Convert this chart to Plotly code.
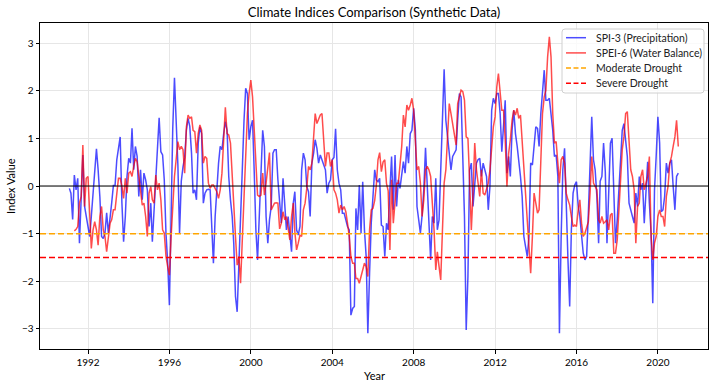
import numpy as np
import pandas as pd
import plotly.graph_objects as go

# Monthly dates (month end), Jan 1991 - Dec 2020
dates = pd.date_range(start="1991-01-01", periods=360, freq="MS") + pd.offsets.MonthEnd(0)

spi3 = [
    -0.05, -0.15, -0.70, 0.23, -0.08, 0.16, -1.20, -0.22, 0.65, -0.43,
    -0.64, -0.85, -1.06, -0.64, -0.08, 0.34, 0.78, 0.34, -0.22, -1.06,
    -1.10, -0.99, -0.56, -0.99, -0.71, -0.36, 0.01, 0.01, 0.55, 0.76,
    1.03, -0.36, -1.17, -0.64, 0.20, 0.58, 0.48, 1.21, 0.34, 0.83,
    0.62, -0.22, 0.34, -0.29, 0.27, 0.13, -0.08, -0.85, -0.36, -1.17,
    -0.50, 0.13, 0.76, 1.43, 0.72, 0.65, 0.13, -1.00, -1.60, -2.50,
    -0.60, 1.20, 2.27, 1.40, 0.45, -1.00, 0.10, 0.40, 0.60, 1.17,
    1.42, 1.25, 0.69, -0.15, -0.08, -0.29, 0.90, 1.24, 1.10, -0.36,
    -0.15, -0.08, -0.07, -0.08, -0.92, -1.62, -0.64, -0.01, 0.48, 0.83,
    0.76, 1.10, 1.35, 1.17, 0.20, -0.29, -0.64, -1.20, -2.32, -2.64,
    -1.76, -0.92, 0.34, 1.38, 2.05, 1.94, 0.97, 1.24, 1.38, 0.34,
    -0.92, -1.55, -0.64, 0.62, 1.17, 0.83, -0.64, -1.20, -0.71, -0.43,
    0.69, 0.76, 0.76, 0.13, -0.36, -0.78, 0.16, -0.30, -0.92, -0.64,
    -1.06, -1.38, -0.36, -0.12, -0.92, -1.03, -0.85, 0.34, 0.69, 0.55,
    -0.01, -0.12, -0.64, 0.48, 0.69, 0.97, 0.79, 0.48, 0.65, 0.55,
    0.44, 0.34, -0.15, 0.06, 0.13, 0.55, 0.60, 1.20, 0.34, 0.06,
    -0.08, -0.57, -0.57, -0.71, -0.85, -0.92, -2.71, -2.57, -2.53, -0.47,
    -0.92, 0.02, -0.99, 0.09, -0.92, -1.48, -3.09, -1.83, -0.78, -0.22,
    0.34, 0.13, 0.09, 0.16, -0.82, -0.85, -1.48, -0.78, -0.92, -0.08,
    0.62, -0.50, 0.65, -0.43, 0.13, -0.05, 0.27, 0.51, 0.27, 0.83,
    0.48, 1.10, 1.17, 1.63, 1.17, -0.43, -0.71, -0.99, -0.61, -0.08,
    0.80, 0.10, -0.78, -1.55, -0.64, -0.78, 0.16, -0.92, -0.71, 0.41,
    1.17, 2.45, 1.38, 1.03, 0.83, 0.34, 0.62, 0.69, 0.76, 1.38,
    1.94, 1.87, 0.76, -0.64, -3.02, -1.90, 0.34, 0.48, -0.43, 0.06,
    0.48, 0.55, 0.58, 0.20, 0.48, 0.34, 0.20, -0.50, -0.01, 1.59,
    1.84, 1.73, 1.94, 1.94, 1.52, 0.72, 1.38, 1.80, 0.27, 0.62,
    0.20, 1.17, 1.59, 1.10, 0.83, 0.55, 0.20, -0.22, -1.06, -1.27,
    -1.48, -1.06, 0.48, 0.44, 0.83, 1.24, 1.21, 0.83, 1.52, 1.94,
    2.43, 1.80, 1.80, 1.84, 1.52, 1.17, 0.62, 0.65, 0.20, -3.09,
    -1.06, 0.34, 0.79, -0.64, -1.55, -2.53, -0.92, -0.15, 0.02, 0.09,
    -0.43, -0.64, -1.06, -1.41, -1.55, -1.48, -0.57, 0.62, 1.45, 0.55,
    0.34, -0.22, -1.20, 0.10, 0.20, 0.90, 0.30, -1.20, 0.13, 0.90,
    1.00, -0.22, -1.20, -0.71, -0.08, 0.76, 1.17, 1.31, 0.97, 0.62,
    -0.36, -0.54, -0.64, -0.78, -0.15, -0.43, 0.20, -0.08, 0.06, -0.78,
    0.06, 0.51, -0.36, -0.99, -2.46, -0.08, 0.62, 1.45, 0.90, -0.54,
    -0.50, -0.22, 0.48, 0.27, 0.48, 0.55, -0.01, -0.50, 0.20, 0.27,
]

spei6 = [
    None, None, None, -0.94, -0.91, -0.85, -0.36, -0.22, 0.86, -0.43,
    0.16, 0.20, -0.78, -1.31, -0.92, -0.75, -0.92, -1.24, -0.64, -0.43,
    -0.92, -1.06, -1.38, -1.06, -0.78, -0.71, -0.50, -0.50, -0.15, 0.16,
    0.16, -0.01, -0.26, 0.16, -0.15, 0.27, 0.30, 0.20, 0.41, 0.58,
    0.51, 0.20, -0.19, -0.40, -0.36, -0.64, -1.06, -0.15, -0.01, -0.29,
    -0.36, 0.23, -0.08, 0.06, -0.29, -0.92, -0.99, -1.48, -1.69, -1.87,
    -1.06, -0.36, 0.20, 0.55, 0.93, 0.76, 0.83, 0.76, 0.27, 1.24,
    1.49, 1.42, 1.45, 1.17, 1.14, 0.69, 1.10, 1.28, 1.17, 0.48,
    0.62, 0.58, 0.06, -0.05, 0.02, 0.02, -0.07, -0.12, -0.26, -0.08,
    0.27, 0.97, 1.65, 1.10, 1.07, 0.90, 0.13, -0.50, -1.06, -1.66,
    -1.48, -2.04, -1.06, -0.08, 0.83, 1.52, 1.94, 2.22, 1.87, 1.17,
    0.48, -0.19, -0.22, -0.19, 0.27, -0.19, 0.06, 0.34, 0.70, -0.50,
    -0.43, -0.36, -0.35, -0.36, -0.90, -0.78, -0.54, -0.71, -0.64, -0.85,
    -1.13, -0.64, -0.36, -0.96, -1.34, -1.20, -1.03, -1.06, -0.50, -0.36,
    -0.05, 0.41, 0.34, 0.48, 1.17, 1.52, 1.31, 1.42, 1.49, 1.52,
    0.90, 0.41, 0.69, 0.69, 0.41, 0.55, -0.08, -0.15, -0.29, -0.57,
    -0.40, -0.50, -0.43, -0.54, -0.78, -1.06, -1.48, -1.62, -1.62, -1.94,
    -1.94, -2.04, -1.90, -1.76, -1.62, -1.69, -1.90, -0.92, -0.50, -0.47,
    -0.30, 0.00, 0.55, 0.70, 0.30, 0.50, 0.55, 0.05, -0.10, -1.34,
    0.13, -0.78, -0.36, 0.06, 0.06, 0.48, 0.83, 1.49, 1.24, 1.70,
    1.59, 1.70, 1.84, 1.59, 0.97, 0.34, 0.41, 0.06, -0.64, -0.29,
    0.34, 0.41, 0.34, 0.20, -0.36, -0.92, -1.76, -1.38, -1.69, -1.97,
    -0.92, 0.06, 0.34, 0.97, 1.73, 1.52, 1.31, 1.03, 0.86, 1.73,
    1.87, 2.01, 1.98, 1.80, 1.03, 1.00, 0.13, -0.92, -0.15, 0.90,
    0.34, 0.02, -0.22, 0.34, -0.15, -0.19, -0.08, 0.06, 0.34, 0.83,
    1.24, 1.45, 2.08, 2.36, 1.87, 1.59, 1.59, 0.97, -0.01, 0.69,
    0.97, 1.38, 1.59, 1.49, 1.63, 1.42, 1.49, 0.97, 0.34, -0.08,
    -0.64, -1.20, -1.83, -1.06, -0.15, -0.36, -0.57, -0.50, 0.76, 1.52,
    1.87, 2.01, 2.71, 3.13, 2.71, 1.52, 0.90, 0.93, 0.48, 0.06,
    0.55, 0.62, 0.48, -0.15, -0.29, -0.40, -0.64, -0.85, -0.82, -0.85,
    -0.50, -0.29, -0.78, -1.06, -0.99, -0.85, -0.75, -0.15, 0.62, 0.06,
    -0.01, -0.08, -0.71, -0.78, -0.64, -0.78, -0.75, -0.71, -0.92, -0.61,
    -0.57, -1.41, -1.41, -1.13, -0.50, 0.06, 0.76, 1.03, 1.52, 1.56,
    1.03, 0.34, 0.20, -0.08, -1.20, -0.43, -0.36, 0.20, 0.34, -0.08,
    0.06, 0.20, 0.62, -1.06, -1.55, -1.20, -1.06, -0.64, -0.50, -0.64,
    -0.64, -0.85, -0.22, -0.01, 0.48, 0.62, 0.83, 1.03, 1.38, 0.83,
]

moderate_level = -1.0
severe_level = -1.5
year_ticks = [1992, 1996, 2000, 2004, 2008, 2012, 2016, 2020]
y_ticks = [-3, -2, -1, 0, 1, 2, 3]

series_names = ["SPI-3 (Precipitation)", "SPEI-6 (Water Balance)", "Moderate Drought", "Severe Drought"]
series_colors = ["rgba(0,0,255,0.7)", "rgba(255,0,0,0.7)", "orange", "red"]
series_dash = ["solid", "solid", "5px,2.5px", "5px,2.5px"]

FONT = "Lato, 'Noto Sans', sans-serif"

# plot area in pixels
L, R, T, B = 40, 708, 23, 349
W, H = R - L, B - T


def px(x):
    return (x - L) / W


def py(y):
    return (B - y) / H


fig = go.Figure()
fig.add_trace(go.Scatter(x=dates, y=spi3, mode="lines", name=series_names[0],
                         line=dict(color=series_colors[0], width=1.5)))
fig.add_trace(go.Scatter(x=dates, y=spei6, mode="lines", name=series_names[1],
                         line=dict(color=series_colors[1], width=1.5)))

x_range = ["1989-08-22", "2022-06-17"]

fig.add_trace(go.Scatter(x=x_range, y=[0, 0], mode="lines",
                         line=dict(color="black", width=1), hoverinfo="skip"))
fig.add_trace(go.Scatter(x=x_range, y=[moderate_level] * 2, mode="lines", name=series_names[2],
                         line=dict(color=series_colors[2], width=1.5, dash="6px,3px")))
fig.add_trace(go.Scatter(x=x_range, y=[severe_level] * 2, mode="lines", name=series_names[3],
                         line=dict(color=series_colors[3], width=1.5, dash="6px,3px")))

# custom legend (matplotlib-like)
shapes = []
annotations = []
bx0, bx1, by0, by1 = 562, 704, 29, 93
r = 3
path = (f"M {px(bx0 + r)},{py(by0)} L {px(bx1 - r)},{py(by0)} "
        f"Q {px(bx1)},{py(by0)} {px(bx1)},{py(by0 + r)} "
        f"L {px(bx1)},{py(by1 - r)} Q {px(bx1)},{py(by1)} {px(bx1 - r)},{py(by1)} "
        f"L {px(bx0 + r)},{py(by1)} Q {px(bx0)},{py(by1)} {px(bx0)},{py(by1 - r)} "
        f"L {px(bx0)},{py(by0 + r)} Q {px(bx0)},{py(by0)} {px(bx0 + r)},{py(by0)} Z")
shapes.append(dict(type="path", path=path, xref="paper", yref="paper",
                   fillcolor="rgba(255,255,255,0.8)", line=dict(color="#d0d0d0", width=1),
                   layer="above"))
row_y = [37.7, 52.9, 68.1, 83.3]
for i in range(4):
    shapes.append(dict(type="line", xref="paper", yref="paper",
                       x0=px(566), x1=px(586), y0=py(row_y[i]), y1=py(row_y[i]),
                       line=dict(color=series_colors[i], width=1.5, dash=series_dash[i]),
                       layer="above"))
    annotations.append(dict(text=series_names[i], xref="paper", yref="paper",
                            x=px(594), y=py(row_y[i]), xanchor="left", yanchor="middle",
                            showarrow=False, font=dict(size=10.5, color="#222222")))

annotations += [
    dict(text="Year", xref="paper", yref="paper", x=0.5, y=-(375 - B) / H,
         xanchor="center", yanchor="middle", showarrow=False, font=dict(size=11)),
    dict(text="Index Value", xref="paper", yref="paper", x=-(L - 10) / W, y=0.5,
         xanchor="center", yanchor="middle", showarrow=False, textangle=-90,
         font=dict(size=11)),
]

fig.update_layout(
    width=716, height=387,
    margin=dict(l=L, r=716 - R, t=T, b=387 - B, autoexpand=False),
    paper_bgcolor="white", plot_bgcolor="white",
    font=dict(family=FONT, size=10, color="black"),
    title=dict(text="Climate Indices Comparison (Synthetic Data)", x=0.5, xref="paper",
               y=1 - 12 / 387, yref="container", yanchor="middle",
               font=dict(size=13, family=FONT, color="black")),
    showlegend=False,
    shapes=shapes,
    annotations=annotations,
)

fig.update_xaxes(
    type="date", range=x_range, automargin=False,
    tickvals=[f"{y}-01-01" for y in year_ticks], ticktext=[str(y) for y in year_ticks],
    showgrid=True, gridcolor="#e6e6e6", gridwidth=1,
    showline=True, linecolor="black", linewidth=1, mirror=True,
    ticks="outside", ticklen=3.5, tickcolor="black",
    zeroline=False,
)
fig.update_yaxes(
    range=[-3.42, 3.42], tickvals=y_ticks, automargin=False,
    showgrid=True, gridcolor="#e6e6e6", gridwidth=1,
    showline=True, linecolor="black", linewidth=1, mirror=True,
    ticks="outside", ticklen=3.5, tickcolor="black",
    zeroline=False,
)

fig.write_html(
    "out.html",
    config={"displayModeBar": False},
    post_script="document.body.style.margin='0';document.body.style.padding='0';document.body.style.overflow='hidden';",
)
